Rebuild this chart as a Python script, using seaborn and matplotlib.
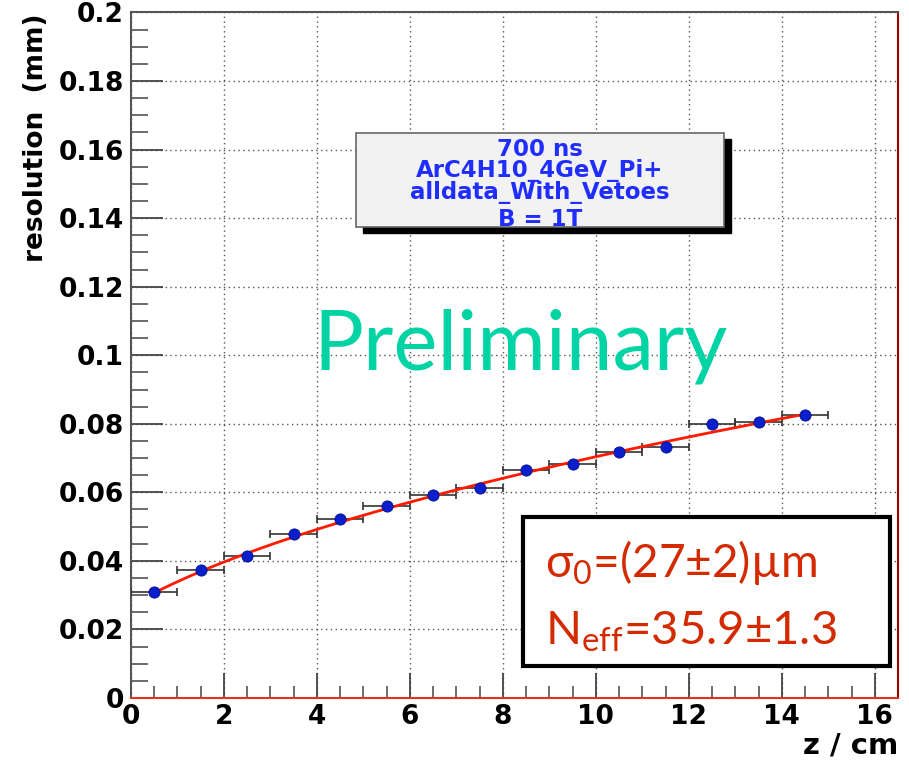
import numpy as np
import pandas as pd
import matplotlib
matplotlib.use("Agg")
import matplotlib.pyplot as plt
from matplotlib.ticker import MultipleLocator
from matplotlib.patches import Rectangle
import seaborn as sns

# Measured drift-distance bins (cm) and track resolution (mm)
z_cm = [0.5, 1.5, 2.5, 3.5, 4.5, 5.5, 6.5, 7.5, 8.5, 9.5, 10.5, 11.5, 12.5, 13.5, 14.5]
resolution_mm = [0.0308, 0.0373, 0.0414, 0.0479, 0.0521, 0.0559, 0.0591, 0.0614,
                 0.0666, 0.0682, 0.0717, 0.0731, 0.0798, 0.0806, 0.0825]
z_halfwidth = [0.5] * 15
res_err = [0.0008, 0.0007, 0.0007, 0.0007, 0.0007, 0.0007, 0.0007, 0.0007,
           0.0008, 0.0008, 0.0008, 0.0008, 0.0009, 0.0009, 0.0010]

# Fit result: sigma(z)^2 = sigma0^2 + k * z
sigma0_mm = 0.027
diffusion_k = 0.0004226
fit_range = (0.5, 14.5)

x_ticks = [0, 2, 4, 6, 8, 10, 12, 14, 16]
x_ticklabels = ["0", "2", "4", "6", "8", "10", "12", "14", "16"]
y_ticks = [0, 0.02, 0.04, 0.06, 0.08, 0.1, 0.12, 0.14, 0.16, 0.18, 0.2]
y_ticklabels = ["0", "0.02", "0.04", "0.06", "0.08", "0.1", "0.12", "0.14",
                "0.16", "0.18", "0.2"]

info_lines = ["700 ns", "ArC4H10_4GeV_Pi+", "alldata_With_Vetoes", "B = 1T"]

sns.set_theme(style="white")
plt.rcParams["font.family"] = ["DejaVu Sans"]
plt.rcParams["text.color"] = "black"
plt.rcParams["mathtext.fontset"] = "custom"
plt.rcParams["mathtext.rm"] = "Lato"
plt.rcParams["mathtext.it"] = "Lato"

fig = plt.figure(figsize=(9.09, 7.62), dpi=100)
ax = fig.add_axes([0.1441, 0.0840, 0.8438, 0.8996])

df = pd.DataFrame({"z": z_cm, "res": resolution_mm})
zf = np.linspace(fit_range[0], fit_range[1], 200)
fit_df = pd.DataFrame({"z": zf, "res": np.sqrt(sigma0_mm**2 + diffusion_k * zf)})

ax.errorbar(z_cm, resolution_mm, xerr=z_halfwidth, yerr=res_err, fmt="none",
            ecolor="#333333", elinewidth=1.2, capsize=3, capthick=1.2, zorder=3)
sns.lineplot(data=fit_df, x="z", y="res", color="#ff1a00", linewidth=2.0, ax=ax,
             zorder=4)
sns.scatterplot(data=df, x="z", y="res", color="#0a1fcc", s=65, edgecolor="#05108a",
                linewidth=0.6, ax=ax, zorder=5)

ax.set_xlim(0, 16.5)
ax.set_ylim(0, 0.2)
ax.set_xticks(x_ticks)
ax.set_xticklabels(x_ticklabels)
ax.set_yticks(y_ticks)
ax.set_yticklabels(y_ticklabels)
ax.xaxis.set_minor_locator(MultipleLocator(0.5))
ax.yaxis.set_minor_locator(MultipleLocator(0.005))
ax.tick_params(bottom=True, left=True, top=False, right=False, which="both")
ax.tick_params(axis="both", which="major", direction="in", labelsize=19,
               colors="#444444", labelcolor="black", width=1.3)
ax.tick_params(axis="x", which="major", length=18, pad=4)
ax.tick_params(axis="y", which="major", length=23, pad=5)
ax.tick_params(axis="x", which="minor", direction="in", length=9, width=1.1,
               colors="#444444")
ax.tick_params(axis="y", which="minor", direction="in", length=12, width=1.1,
               colors="#444444")
for lab in ax.get_xticklabels() + ax.get_yticklabels():
    lab.set_fontweight("bold")
ax.grid(True, which="major", linestyle=(0, (1, 2.5)), color="#555555", linewidth=1.0)

for side in ["left", "top"]:
    ax.spines[side].set_color("#555555")
    ax.spines[side].set_linewidth(1.5)
ax.spines["right"].set_color("#990000")
ax.spines["right"].set_linewidth(1.5)
ax.spines["bottom"].set_color("#dd3322")
ax.spines["bottom"].set_linewidth(1.5)

ax.set_xlabel("")
ax.set_ylabel("")
fig.text(0.988, 0.022, "z / cm", ha="right", va="center", fontsize=21,
         fontweight="bold", color="black")
fig.text(0.040, 0.982, "resolution  (mm)", ha="center", va="top", rotation=90,
         fontsize=19, fontweight="bold", color="black")

# Run information box with drop shadow
bx0, by0, bw, bh = 356 / 909, 1 - 227 / 762, (724 - 356) / 909, (227 - 133) / 762
fig.patches.append(Rectangle((bx0 + 7 / 909, by0 - 6 / 762), bw, bh, transform=fig.transFigure,
                             facecolor="black", edgecolor="black", zorder=6))
fig.patches.append(Rectangle((bx0, by0), bw, bh, transform=fig.transFigure,
                             facecolor="#f2f2f2", edgecolor="#666666", linewidth=1.2,
                             zorder=7))
for i, line in enumerate(info_lines):
    ypix = [149, 171, 193, 219][i]
    fig.text(540 / 909, 1 - ypix / 762, line, ha="center", va="center", fontsize=16.5,
             fontweight="bold", color="#1f2dff", zorder=8)

# Watermark
fig.text(313 / 909, 1 - 370 / 762, "Preliminary", ha="left", va="baseline",
         fontsize=60, color="#00d4a4", family="Lato", zorder=9)

# Fit parameter box
px0, py0 = 523 / 909, 1 - 666 / 762
pw, ph = (890 - 523) / 909, (666 - 517) / 762
fig.patches.append(Rectangle((px0, py0), pw, ph, transform=fig.transFigure,
                             facecolor="white", edgecolor="black", linewidth=3,
                             zorder=10))
fig.text(545 / 909, 1 - 577 / 762, r"$\mathrm{σ_0}$=(27±2)µm", ha="left",
         va="baseline", fontsize=33, color="#d42a00", family="Lato", zorder=11)
fig.text(545 / 909, 1 - 645 / 762, r"N$_\mathrm{eff}$=35.9±1.3", ha="left",
         va="baseline", fontsize=34, color="#d42a00", family="Lato", zorder=11)

fig.savefig("out.png", dpi=100, facecolor="white")
